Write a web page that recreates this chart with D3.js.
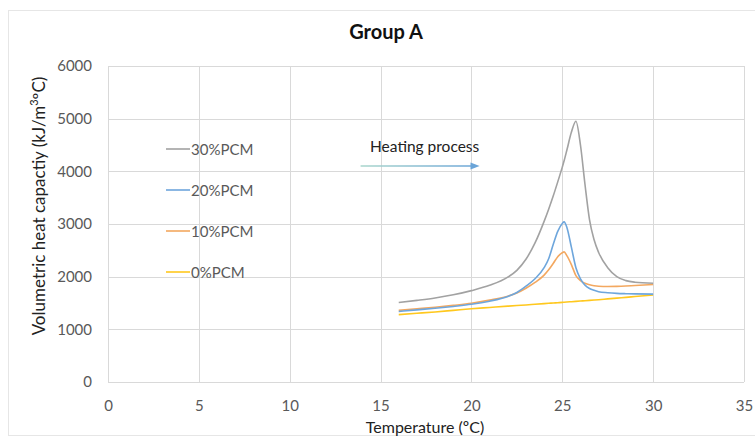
<!DOCTYPE html>
<html>
<head>
<meta charset="utf-8">
<script src="https://cdn.jsdelivr.net/npm/d3@7"></script>
<style>
  html, body { margin: 0; padding: 0; background: #fff; }
  svg { display: block; font-family: Lato, "Open Sans", sans-serif; }
</style>
</head>
<body>
<svg id="chart" width="755" height="437"></svg>
<script>
// Temperature (ºC) sample points shared by all series
const temperature = [16, 17, 18, 19, 20, 21, 22, 22.5, 23, 23.5, 24, 24.25, 24.5, 24.75, 25, 25.1,
  25.25, 25.5, 25.75, 26, 26.25, 26.5, 26.75, 27, 27.5, 28, 28.5, 29, 30];

// Volumetric heat capacity (kJ/m³ºC) for each PCM content
const pcm30 = [1510, 1550, 1595, 1655, 1735, 1835, 1990, 2120, 2330, 2640, 3050, 3280, 3530, 3800, 4080, 4200,
  4400, 4740, 4950, 4500, 3750, 3080, 2700, 2460, 2170, 2000, 1925, 1895, 1875];
const pcm20 = [1340, 1370, 1400, 1435, 1475, 1535, 1625, 1700, 1820, 1960, 2170, 2340, 2610, 2860, 3010, 3040,
  2940, 2560, 2170, 1960, 1840, 1775, 1740, 1715, 1695, 1683, 1677, 1673, 1668];
const pcm10 = [1360, 1390, 1420, 1455, 1495, 1555, 1630, 1690, 1780, 1890, 2030, 2130, 2250, 2380, 2455, 2470,
  2400, 2230, 2020, 1925, 1875, 1845, 1828, 1818, 1812, 1815, 1822, 1832, 1850];
const pcm0 = [1280, 1305, 1330, 1360, 1390, 1415, 1440, 1452, 1463, 1476, 1488, 1494, 1500, 1506, 1512, 1515,
  1519, 1525, 1531, 1537, 1543, 1549, 1556, 1563, 1578, 1593, 1607, 1622, 1652];

const seriesNames = ["30%PCM", "20%PCM", "10%PCM", "0%PCM"];
const seriesValues = [pcm30, pcm20, pcm10, pcm0];
const seriesColors = ["#a2a2a2", "#6ea6dc", "#f3a860", "#ffc81e"];

const xTicks = [0, 5, 10, 15, 20, 25, 30, 35];
const yTicks = [0, 1000, 2000, 3000, 4000, 5000, 6000];

const svg = d3.select("#chart");
const plot = { left: 108, right: 744, top: 66, bottom: 382 };

const x = d3.scaleLinear().domain([0, 35]).range([plot.left, plot.right]);
const y = d3.scaleLinear().domain([0, 6000]).range([plot.bottom, plot.top]);

// chart frame
svg.append("rect")
  .attr("x", 8.5).attr("y", 10.5).attr("width", 760).attr("height", 425)
  .attr("fill", "#fff").attr("stroke", "#e6e6e6");

// title
svg.append("text")
  .attr("x", 386).attr("y", 39)
  .attr("text-anchor", "middle")
  .attr("font-size", 20).attr("font-weight", "bold").attr("fill", "#111")
  .text("Group A");

// gridlines
const grid = svg.append("g").attr("stroke", "#d9d9d9").attr("stroke-width", 1);
grid.selectAll(".hg").data(yTicks).join("line")
  .attr("x1", plot.left).attr("x2", plot.right)
  .attr("y1", d => Math.round(y(d)) + 0.5).attr("y2", d => Math.round(y(d)) + 0.5);
grid.selectAll(".vg").data(xTicks).join("line")
  .attr("y1", plot.top).attr("y2", plot.bottom)
  .attr("x1", d => Math.round(x(d)) + 0.5).attr("x2", d => Math.round(x(d)) + 0.5);

// axes
const xAxis = svg.append("g")
  .attr("transform", `translate(0,${plot.bottom})`)
  .call(d3.axisBottom(x).tickValues(xTicks).tickSize(0).tickPadding(18));
const yAxis = svg.append("g")
  .attr("transform", `translate(${plot.left},0)`)
  .call(d3.axisLeft(y).tickValues(yTicks).tickSize(0).tickPadding(16).tickFormat(d3.format("d")));
[xAxis, yAxis].forEach(a => {
  a.select(".domain").remove();
  a.selectAll("text").attr("font-size", 15).attr("fill", "#595959")
    .attr("font-family", "Lato, 'Open Sans', sans-serif");
});

// axis titles
svg.append("text")
  .attr("x", 425).attr("y", 433)
  .attr("text-anchor", "middle")
  .attr("font-size", 16).attr("fill", "#222")
  .text("Temperature (ºC)");

const yTitle = svg.append("text")
  .attr("transform", "translate(45,206) rotate(-90)")
  .attr("text-anchor", "middle")
  .attr("font-size", 17).attr("fill", "#222");
yTitle.append("tspan").text("Volumetric heat capactiy (kJ/m");
yTitle.append("tspan").attr("font-size", 11).attr("dy", -7).text("3");
yTitle.append("tspan").attr("dy", 7).text("ºC)");

// series lines
const line = d3.line()
  .x((d, i) => x(temperature[i]))
  .y(d => y(d))
  .curve(d3.curveMonotoneX);

svg.append("g").selectAll("path")
  .data(seriesValues.map((v, i) => ({ v, c: seriesColors[i] })).reverse())
  .join("path")
  .attr("d", d => line(d.v))
  .attr("fill", "none")
  .attr("stroke", d => d.c)
  .attr("stroke-width", 1.6)
  .attr("stroke-linejoin", "round");

// legend
const legendRows = [149, 190, 231, 272];
const legend = svg.append("g");
seriesNames.forEach((name, i) => {
  legend.append("line")
    .attr("x1", 166).attr("x2", 190)
    .attr("y1", legendRows[i]).attr("y2", legendRows[i])
    .attr("stroke", seriesColors[i]).attr("stroke-width", 1.6);
  legend.append("text")
    .attr("x", 191).attr("y", legendRows[i] + 5.5)
    .attr("font-size", 15).attr("fill", "#595959")
    .text(name);
});

// heating process annotation
const defs = svg.append("defs");
const grad = defs.append("linearGradient").attr("id", "arrowGrad")
  .attr("gradientUnits", "userSpaceOnUse")
  .attr("x1", x(13.9)).attr("x2", x(20.4)).attr("y1", 0).attr("y2", 0);
grad.append("stop").attr("offset", "0%").attr("stop-color", "#a9d6cc");
grad.append("stop").attr("offset", "100%").attr("stop-color", "#6aa4d8");

const ay = y(4100);
svg.append("line")
  .attr("x1", x(13.9)).attr("x2", x(20.0))
  .attr("y1", ay).attr("y2", ay)
  .attr("stroke", "url(#arrowGrad)").attr("stroke-width", 1.6);
svg.append("path")
  .attr("d", `M${x(19.95)},${ay - 3.5} L${x(20.45)},${ay} L${x(19.95)},${ay + 3.5} Z`)
  .attr("fill", "#6aa4d8");

svg.append("text")
  .attr("x", 370).attr("y", 151.5)
  .attr("font-size", 15.5).attr("fill", "#222")
  .text("Heating process");
</script>
</body>
</html>
